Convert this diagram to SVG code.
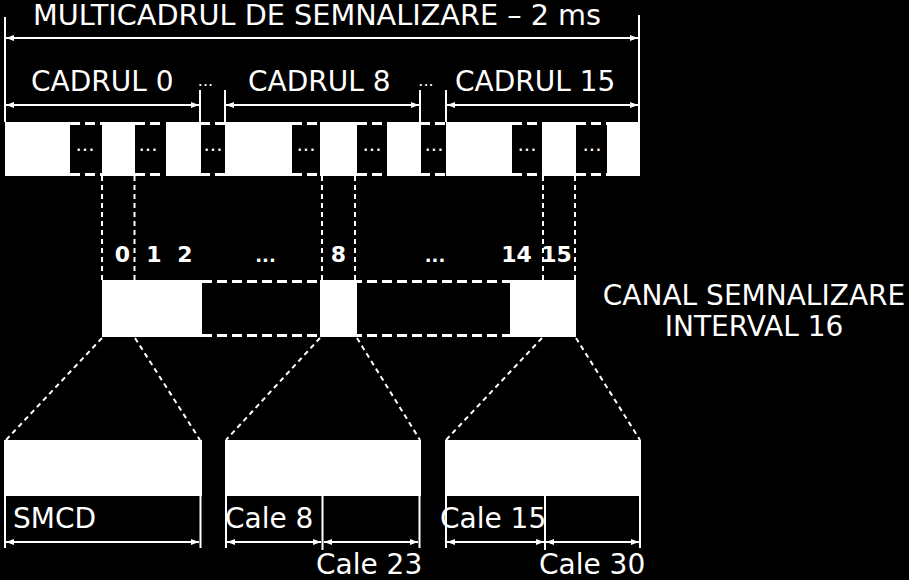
<svg xmlns="http://www.w3.org/2000/svg" width="909" height="580" viewBox="0 0 909 580">
<defs>
<marker id="ah" viewBox="0 0 8 6" refX="8" refY="3" markerWidth="8" markerHeight="6" markerUnits="userSpaceOnUse" orient="auto-start-reverse"><path d="M0,0 L8,3 L0,6 z" fill="#fff"/></marker>
</defs>
<style>
.t{font-family:"DejaVu Sans",Verdana,sans-serif;fill:#fff;font-size:28px}
.m{text-anchor:middle}
.b{font-family:"DejaVu Sans",Verdana,sans-serif;fill:#fff;font-size:22px;font-weight:bold;text-anchor:middle}
.d{font-family:"DejaVu Sans",sans-serif;fill:#fff;font-size:20px;text-anchor:middle}
.d2{font-family:"DejaVu Sans",sans-serif;fill:#fff;font-size:16px;text-anchor:middle}
.bd{font-family:"DejaVu Sans",sans-serif;fill:#fff;font-size:18px;font-weight:bold;text-anchor:middle}
.blk{fill:#fff}
.dash{stroke:#fff;stroke-width:3;stroke-dasharray:10 5;fill:none}
.dot{stroke:#fff;stroke-width:2;stroke-dasharray:5 4;fill:none}
.ln{stroke:#fff;stroke-width:2;fill:none}
.ar{stroke:#fff;stroke-width:2;fill:none;marker-start:url(#ah);marker-end:url(#ah)}
</style>
<rect width="909" height="580" fill="#000"/>

<g id="multicadru">
<text class="t" x="33" y="25" textLength="568" lengthAdjust="spacingAndGlyphs">MULTICADRUL DE SEMNALIZARE – 2 ms</text>
<text class="t" x="31" y="91">CADRUL 0</text>
<text class="t" x="248" y="91">CADRUL 8</text>
<text class="t" x="455" y="91">CADRUL 15</text>
<text class="d2" x="205.5" y="86">...</text>
<text class="d2" x="426" y="86">...</text>
</g>

<g id="cadre">
<path class="dash" d="M70,123.5H102 M135,123.5H165 M200,123.5H225 M292,123.5H320 M357,123.5H387 M420,123.5H446 M512,123.5H542 M576,123.5H607"/>
<path class="dash" d="M70,174.5H102 M135,174.5H165 M200,174.5H225 M292,174.5H320 M357,174.5H387 M420,174.5H446 M512,174.5H542 M576,174.5H607"/>
<rect class="blk" x="5" y="122" width="65" height="54"/>
<rect class="blk" x="102" y="122" width="33" height="54"/>
<rect class="blk" x="166" y="122" width="35" height="54"/>
<rect class="blk" x="225" y="122" width="67" height="54"/>
<rect class="blk" x="320" y="122" width="37" height="54"/>
<rect class="blk" x="387" y="122" width="34" height="54"/>
<rect class="blk" x="446" y="122" width="66" height="54"/>
<rect class="blk" x="542" y="122" width="34" height="54"/>
<rect class="blk" x="607" y="122" width="33" height="54"/>
<text class="d" x="85" y="151">...</text>
<text class="d" x="148" y="151">...</text>
<text class="d" x="213" y="151">...</text>
<text class="d" x="306" y="151">...</text>
<text class="d" x="372" y="151">...</text>
<text class="d" x="434" y="151">...</text>
<text class="d" x="527" y="151">...</text>
<text class="d" x="592" y="151">...</text>
</g>

<g id="canal16">
<path class="dash" d="M202,281.5H510 M202,335.5H510"/>
<rect class="blk" x="102" y="280" width="100" height="57"/>
<rect class="blk" x="320" y="280" width="37" height="57"/>
<rect class="blk" x="510" y="280" width="66" height="57"/>
<text class="b" x="122.5" y="262">0</text>
<text class="b" x="154" y="262">1</text>
<text class="b" x="185" y="262">2</text>
<text class="bd" x="265.5" y="262">...</text>
<text class="b" x="338.5" y="262">8</text>
<text class="bd" x="435" y="262">...</text>
<text class="b" x="516.5" y="262">14</text>
<text class="b" x="556.5" y="262">15</text>
<text class="t m" x="754" y="305">CANAL SEMNALIZARE</text>
<text class="t m" x="754" y="336">INTERVAL 16</text>
</g>

<g id="interval0">
<rect class="blk" x="4" y="440" width="198" height="56"/>
<path class="ln" d="M5,496V548 M200.5,496V548"/>
<text class="t" x="13" y="528">SMCD</text>
</g>

<g id="interval8">
<rect class="blk" x="225" y="440" width="196" height="56"/>
<path class="ln" d="M226,496V548 M322.5,496V550 M419.5,496V548"/>
<text class="t" x="225" y="528">Cale 8</text>
<text class="t" x="316" y="574">Cale 23</text>
</g>

<g id="interval15">
<rect class="blk" x="445" y="440" width="196" height="56"/>
<path class="ln" d="M446,496V548 M545,496V550 M640,496V548"/>
<text class="t" x="440" y="528">Cale 15</text>
<text class="t" x="539" y="574">Cale 30</text>
</g>

<g id="connectors">
<path class="ln" d="M5,17V122 M639,15V122 M200,90V122 M225,90V122 M420,90V122 M446,90V122"/>
<path class="ar" d="M6,38H638"/>
<path class="ar" d="M6,105H199"/>
<path class="ar" d="M226,105H419"/>
<path class="ar" d="M447,105H638"/>
<path class="dot" d="M102,176V280 M134.5,176V280 M322,176V280 M355,176V280 M543,176V280 M575,176V280"/>
<path class="dot" stroke-dasharray="4 4" stroke-width="2.5" d="M102,338L6,440 M135,338L200,440 M320,338L226,440 M357,338L420,440 M542,338L446,440 M576,338L640,440"/>
<path class="ar" d="M6,542H199"/>
<path class="ar" d="M227,542H321"/>
<path class="ar" d="M324,542H418"/>
<path class="ar" d="M447,542H544"/>
<path class="ar" d="M546,542H639"/>
</g>
</svg>
